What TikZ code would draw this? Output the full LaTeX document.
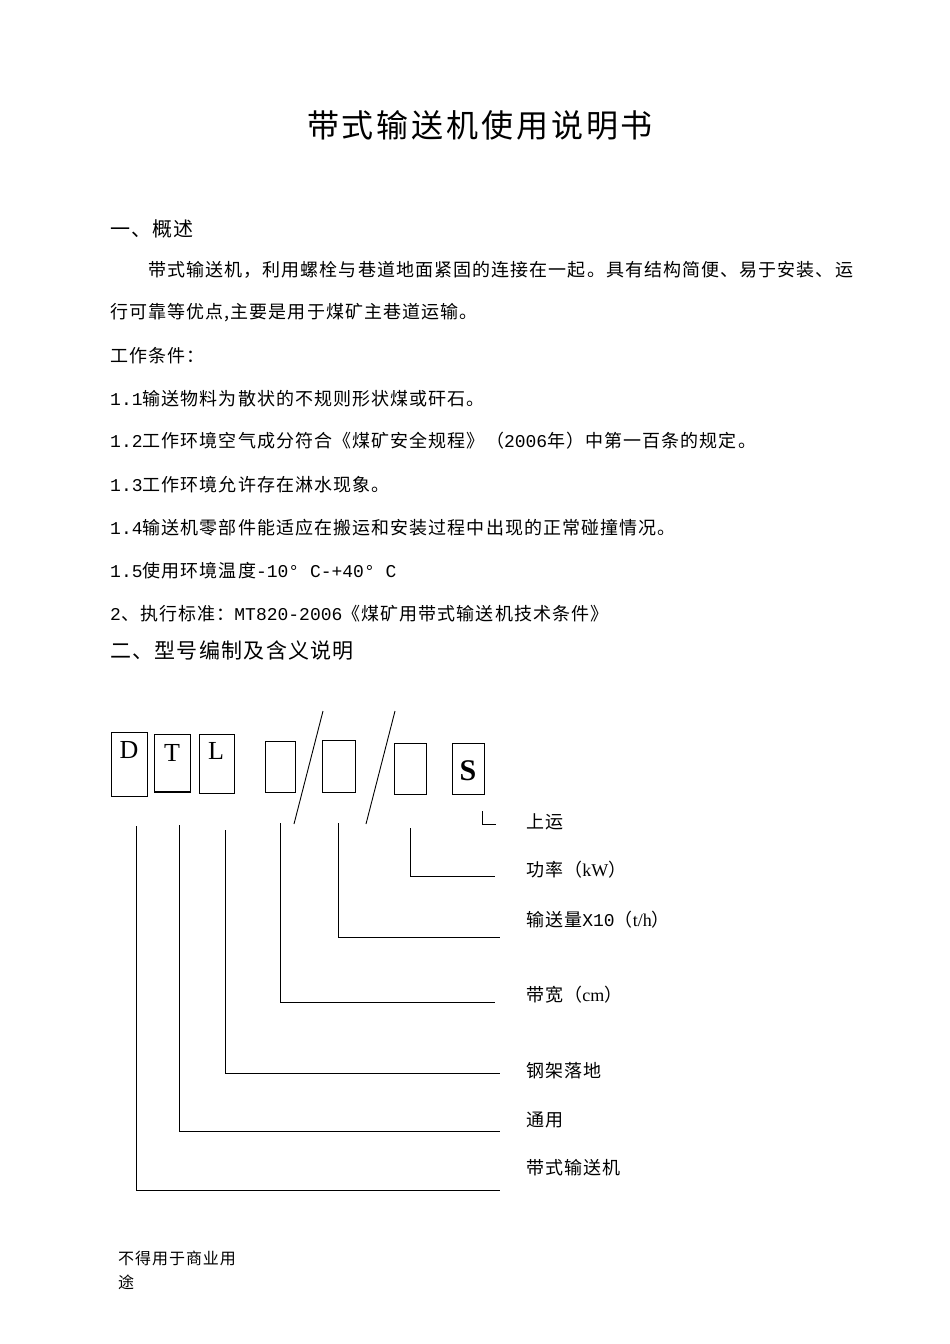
\documentclass[tikz,border=0pt]{standalone}
\usepackage{fontspec}
\setmainfont{Liberation Serif}
\newfontfamily\cjk[LetterSpace=6]{Noto Sans CJK SC}
\newfontfamily\cjkt[LetterSpace=9]{Noto Sans CJK SC}
\newfontfamily\mono{Liberation Mono}
\begin{document}
\begin{tikzpicture}[x=1pt,y=-1pt,
  txt/.style={anchor=west,inner sep=0pt,font=\cjk\fontsize{18}{20}\selectfont},
  cbox/.style={draw,line width=0.8pt,inner sep=0pt},
  ln/.style={line width=0.9pt}]
\useasboundingbox[fill=white] (0,0) rectangle (950,1344);
\node[inner sep=0pt,font=\cjkt\fontsize{32}{34}\selectfont] (title) at (480,125) {带式输送机使用说明书};
\node[txt,font=\cjk\fontsize{20}{24}\selectfont] (h1) at (110,229) {一、概述};
\node[txt] (p1) at (148,270) {带式输送机，利用螺栓与巷道地面紧固的连接在一起。具有结构简便、易于安装、运};
\node[txt] (p2) at (110,313) {行可靠等优点,主要是用于煤矿主巷道运输。};
\node[txt] (wc) at (110,356) {工作条件：};
\node[txt] (l1) at (110,399) {{\mono 1.1}输送物料为散状的不规则形状煤或矸石。};
\node[txt] (l2) at (110,441) {{\mono 1.2}工作环境空气成分符合《煤矿安全规程》（{\mono 2006}年）中第一百条的规定。};
\node[txt] (l3) at (110,485) {{\mono 1.3}工作环境允许存在淋水现象。};
\node[txt] (l4) at (110,528) {{\mono 1.4}输送机零部件能适应在搬运和安装过程中出现的正常碰撞情况。};
\node[txt] (l5) at (110,571) {{\mono 1.5}使用环境温度{\mono -10° C-+40° C}};
\node[txt] (l6) at (110,614) {{\mono 2}、执行标准：{\mono MT820-2006}《煤矿用带式输送机技术条件》};
\node[txt,font=\cjk\fontsize{21}{24}\selectfont] (h2) at (110,651) {二、型号编制及含义说明};
% boxes
\draw[cbox] (111,732) rectangle (147,796);
\draw[cbox] (154,734) rectangle (190,792);
\draw[line width=1.6pt] (154,792) -- (190,792);
\draw[cbox] (199,734) rectangle (234,793);
\draw[cbox] (265,741) rectangle (295,792);
\draw[cbox] (322,740) rectangle (355,792);
\draw[cbox] (394,743) rectangle (426,794);
\draw[cbox] (452,743) rectangle (484,794);
\node[font=\fontsize{26}{26}\selectfont] (bD) at (129,750) {D};
\node[font=\fontsize{26}{26}\selectfont] (bT) at (172,753) {T};
\node[font=\fontsize{26}{26}\selectfont] (bL) at (216,751) {L};
\node[font=\bfseries\fontsize{30}{30}\selectfont] (bS) at (468,771) {S};
\draw[ln] (323,711) -- (294,824);
\draw[ln] (395,711) -- (366,824);
% leader lines
\draw[ln] (482,811) -- (482,824) -- (496,824);
\draw[ln] (410,828) -- (410,876) -- (495,876);
\draw[ln] (338,823) -- (338,937) -- (500,937);
\draw[ln] (280,823) -- (280,1002) -- (495,1002);
\draw[ln] (225,830) -- (225,1073) -- (500,1073);
\draw[ln] (179,825) -- (179,1131) -- (500,1131);
\draw[ln] (136,826) -- (136,1190) -- (500,1190);
\node[txt] (a1) at (526,822) {上运};
\node[txt] (a2) at (526,870) {功率（{\rmfamily kW}）};
\node[txt] (a3) at (526,920) {输送量{\mono X10}（{\rmfamily t/h}）};
\node[txt] (a4) at (526,995) {带宽（{\rmfamily cm}）};
\node[txt] (a5) at (526,1071) {钢架落地};
\node[txt] (a6) at (526,1120) {通用};
\node[txt] (a7) at (526,1168) {带式输送机};
\node[txt,font=\cjk\fontsize{16}{18}\selectfont] (f1) at (118,1258) {不得用于商业用};
\node[txt,font=\cjk\fontsize{16}{18}\selectfont] (f2) at (118,1282) {途};
\end{tikzpicture}
\end{document}
